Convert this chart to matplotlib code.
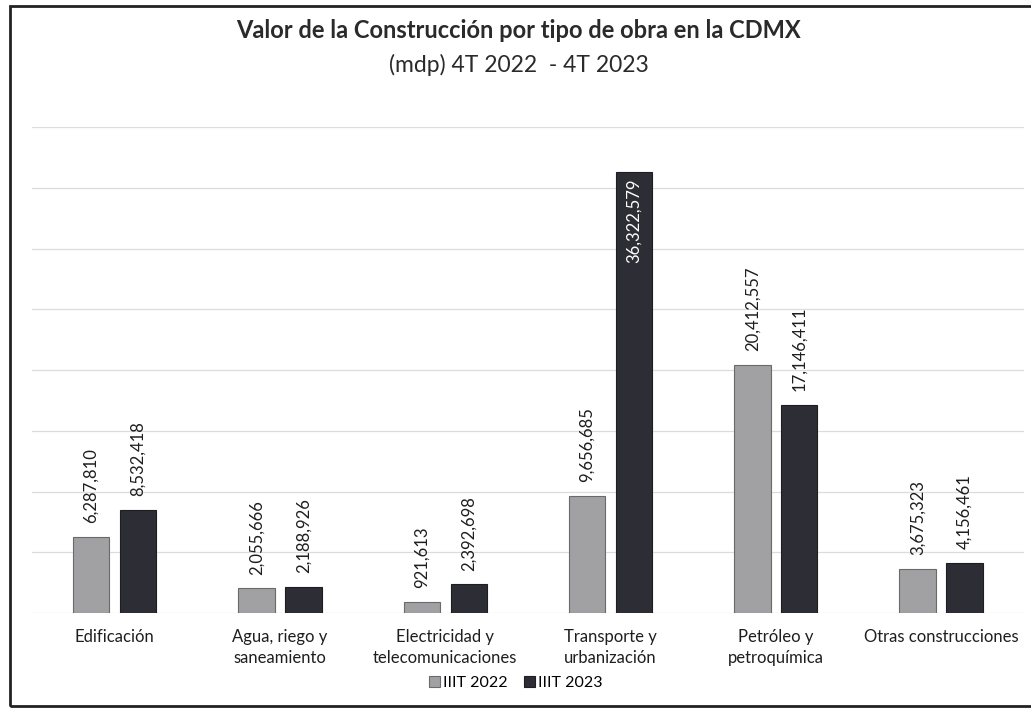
import numpy as np
import matplotlib
matplotlib.use("Agg")
import matplotlib.pyplot as plt
from matplotlib.patches import Rectangle

# Datos (mdp)
categorias = ["Edificación", "Agua, riego y\nsaneamiento", "Electricidad y\ntelecomunicaciones",
              "Transporte y\nurbanización", "Petróleo y\npetroquímica", "Otras construcciones"]
valores_2022 = [6287810, 2055666, 921613, 9656685, 20412557, 3675323]
valores_2023 = [8532418, 2188926, 2392698, 36322579, 17146411, 4156461]
series = ["IIIT 2022", "IIIT 2023"]

plt.rcParams['font.family'] = ['Lato', 'DejaVu Sans']

fig = plt.figure(figsize=(10.31, 7.09), dpi=100)
ax = fig.add_axes([0.031, 0.135, 0.962, 0.686])

x = np.arange(len(categorias))
ancho = 0.22
desp = 0.142
color_22 = '#a1a1a4'
color_23 = '#2d2d35'

b1 = ax.bar(x - desp, valores_2022, ancho, color=color_22, edgecolor='#6a6a6a', linewidth=0.8,
            label=series[0], zorder=3)
b2 = ax.bar(x + desp, valores_2023, ancho, color=color_23, edgecolor='#1e1e22', linewidth=0.8,
            label=series[1], zorder=3)

ymax = 40_000_000
ax.set_ylim(0, ymax)
ax.set_xlim(-0.5, len(categorias) - 0.5)
ax.set_yticks(np.arange(0, ymax + 1, 5_000_000))
ax.yaxis.grid(True, color='#dcdcdc', linewidth=0.9, zorder=0)
ax.tick_params(axis='y', left=False, labelleft=False)
ax.tick_params(axis='x', bottom=False, pad=8)
ax.set_xticks(x)
ax.set_xticklabels(categorias, fontsize=12, color='#1e1e1e', linespacing=1.35)
for s in ax.spines.values():
    s.set_visible(False)

# Etiquetas de valor
for barras in (b1, b2):
    for r in barras:
        h = r.get_height()
        txt = f"{h:,.0f}"
        cx = r.get_x() + r.get_width() / 2
        if h > 0.85 * ymax:
            ax.text(cx, h - ymax * 0.014, txt, rotation=90, ha='center', va='top',
                    fontsize=12, color='white', zorder=4)
        else:
            ax.text(cx, h + ymax * 0.028, txt, rotation=90, ha='center', va='bottom',
                    fontsize=12, color='#1e1e1e', zorder=4)

fig.text(0.503, 0.957, "Valor de la Construcción por tipo de obra en la CDMX",
         ha='center', va='center', fontsize=17, fontweight='bold', color='#2a2a2a')
fig.text(0.503, 0.908, "(mdp) 4T 2022  - 4T 2023", ha='center', va='center',
         fontsize=16.5, color='#2a2a2a')

fig.legend(loc='center', bbox_to_anchor=(0.5, 1 - 683 / 709), ncol=2, frameon=False,
           fontsize=11.5, handlelength=0.7, handleheight=0.7, handletextpad=0.2,
           columnspacing=1.0)

# Marco
fig.patches.append(Rectangle((10 / 1031, 3 / 709), 1.2, 1 - 9 / 709, transform=fig.transFigure,
                             fill=False, edgecolor='#222222', linewidth=2))

fig.savefig("out.png", dpi=100, facecolor='white')
